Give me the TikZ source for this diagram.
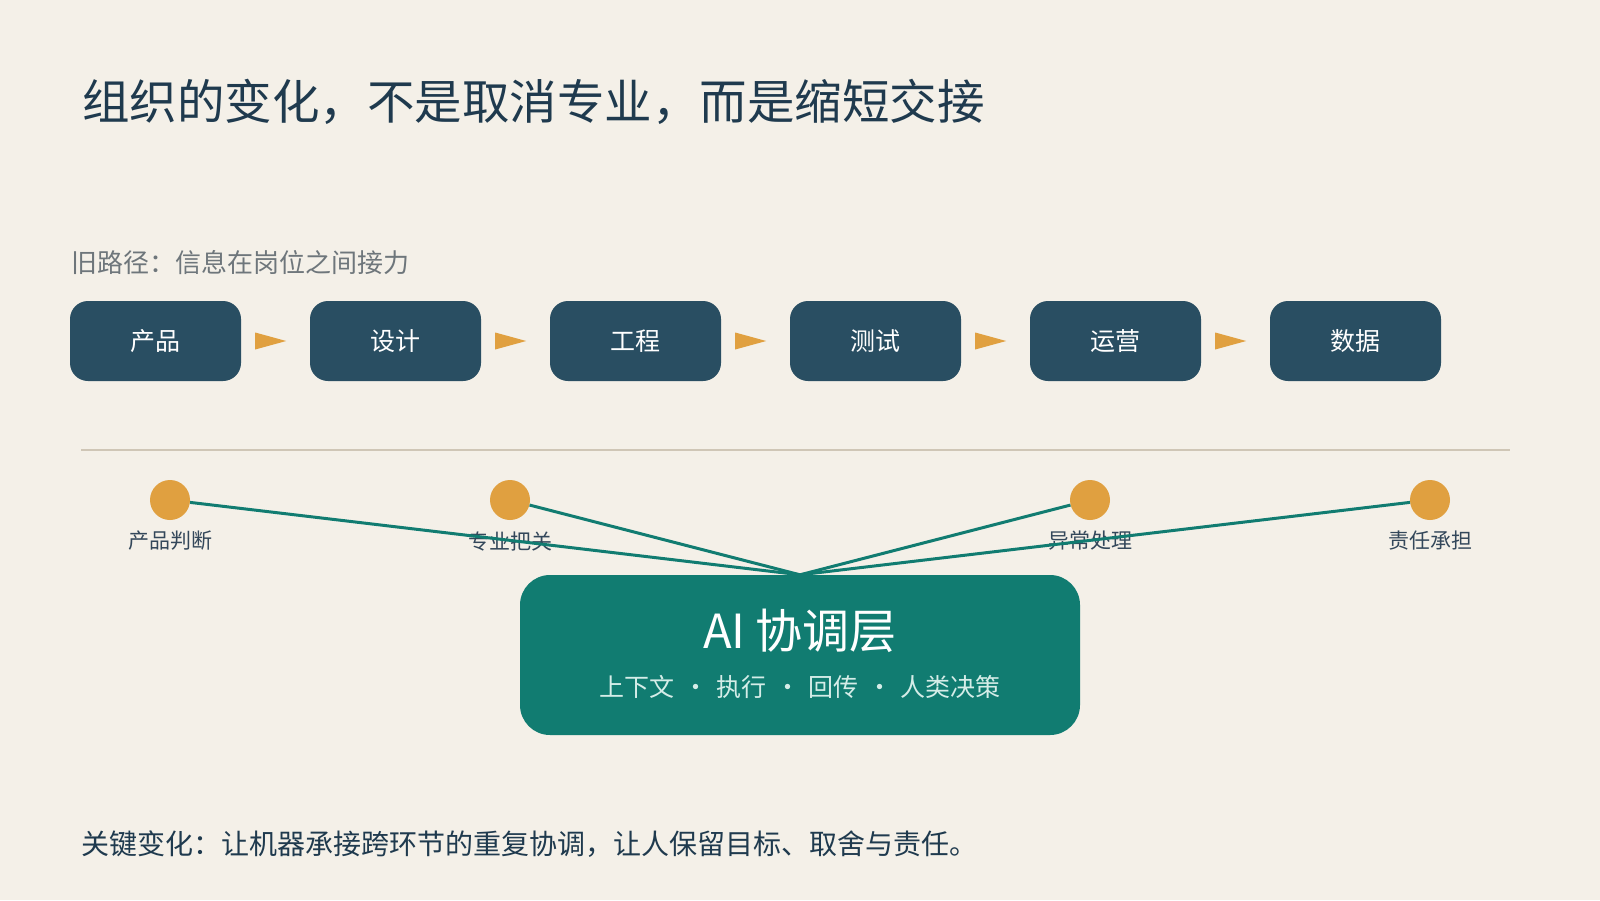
\documentclass[tikz,border=0pt]{standalone}
\usepackage{fontspec}
\setmainfont[Kerning=Off]{Noto Sans CJK SC}
\newcommand\sz[1]{\fontsize{#1pt}{#1pt}\selectfont}
\newcommand\sepdot{\makebox[42pt]{·}}
\definecolor{bgc}{HTML}{F4F0E8}
\definecolor{navy}{HTML}{1F3A4E}
\definecolor{boxc}{HTML}{294E62}
\definecolor{accent}{HTML}{E0A040}
\definecolor{teal}{HTML}{117C71}
\definecolor{rule}{HTML}{CFC6B6}
\definecolor{grayt}{HTML}{6E767B}
\definecolor{lblc}{HTML}{33475A}
\definecolor{pale}{HTML}{D5EDE8}
\tikzset{
  stepbox/.style={fill=boxc, rounded corners=18pt, minimum width=171pt, minimum height=80pt, inner sep=0pt, text=white, font=\sz{25}},
  dot/.style={circle, fill=accent, minimum size=40pt, inner sep=0pt},
  lbl/.style={inner sep=0pt, text=lblc, font=\sz{21}},
  link/.style={draw=teal, line width=3pt},
  aibox/.style={fill=teal, rounded corners=30pt, minimum width=560pt, minimum height=160pt, inner sep=0pt},
  tri/.style={fill=accent}
}
\begin{document}
\begin{tikzpicture}[x=1pt,y=-1pt]
\fill[bgc] (0,0) rectangle (1600,900);
\useasboundingbox (0,0) rectangle (1600,900);

\node[anchor=west, inner sep=0pt, text=navy, font=\sz{47.5}] (title) at (82,102) {组织的变化，不是取消专业，而是缩短交接};
\node[anchor=west, inner sep=0pt, text=grayt, font=\sz{26}] (old) at (71,263) {旧路径：信息在岗位之间接力};

\node[stepbox] (b1) at (155.5,341) {产品};
\node[stepbox] (b2) at (395.5,341) {设计};
\node[stepbox] (b3) at (635.5,341) {工程};
\node[stepbox] (b4) at (875.5,341) {测试};
\node[stepbox] (b5) at (1115.5,341) {运营};
\node[stepbox] (b6) at (1355.5,341) {数据};

\foreach \a in {b1,b2,b3,b4,b5}{
  \fill[tri] ([xshift=14pt]\a.east) ++(0,-8.5) -- ++(31,8.5) -- ++(-31,8.5) -- cycle;
}

\coordinate (s1) at (81,450);
\coordinate (s2) at (1510,450);
\draw[rule, line width=1.5pt] (s1) -- (s2);

\node[lbl] (l1) at (170,541) {产品判断};
\node[lbl] (l2) at (510,541) {专业把关};
\node[lbl] (l3) at (1090,541) {异常处理};
\node[lbl] (l4) at (1430,541) {责任承担};

\node[aibox] (ai) at (800,655) {};
\node[inner sep=0pt, text=white, font=\sz{47}] (ait) at (800,631) {AI 协调层};
\node[inner sep=0pt, text=pale, font=\sz{25}] (ais) at (800,687) {上下文\sepdot 执行\sepdot 回传\sepdot 人类决策};

\node[dot] (c1) at (170,500) {};
\node[dot] (c2) at (510,500) {};
\node[dot] (c3) at (1090,500) {};
\node[dot] (c4) at (1430,500) {};

\foreach \c in {c1,c2,c3,c4}{
  \draw[link] (\c) -- (ai.north);
}

\node[anchor=west, inner sep=0pt, text=navy, font=\sz{28}] (note) at (81,844) {关键变化：让机器承接跨环节的重复协调，让人保留目标、取舍与责任。};
\end{tikzpicture}
\end{document}
